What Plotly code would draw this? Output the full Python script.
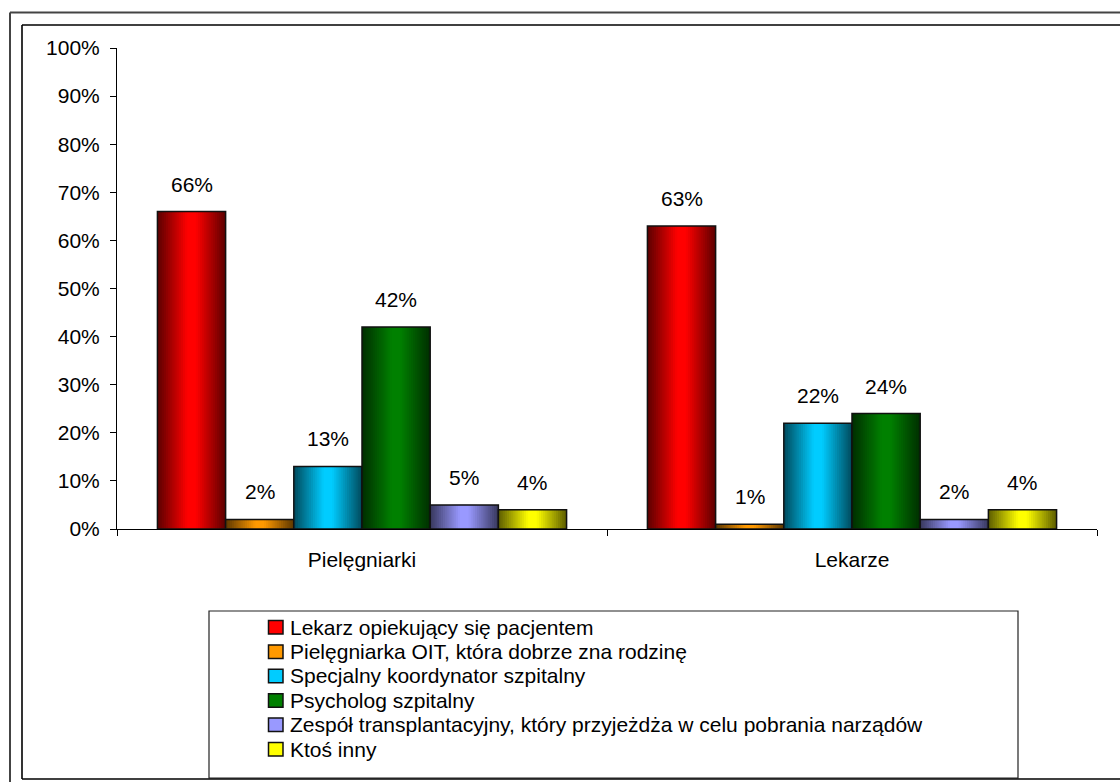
import plotly.graph_objects as go

# ---- data ----
categories = ["Pielęgniarki", "Lekarze"]
series_names = [
    "Lekarz opiekujący się pacjentem",
    "Pielęgniarka OIT, która dobrze zna rodzinę",
    "Specjalny koordynator szpitalny",
    "Psycholog szpitalny",
    "Zespół transplantacyjny, który przyjeżdża w celu pobrania narządów",
    "Ktoś inny",
]
values_lekarz = [66, 63]
values_pielegniarka = [2, 1]
values_koordynator = [13, 22]
values_psycholog = [42, 24]
values_zespol = [5, 2]
values_inny = [4, 4]
series_values = [values_lekarz, values_pielegniarka, values_koordynator,
                 values_psycholog, values_zespol, values_inny]
y_ticks = [0, 10, 20, 30, 40, 50, 60, 70, 80, 90, 100]
y_tick_labels = ["%d%%" % v for v in y_ticks]

# ---- styles ----
colors = ["#FF0000", "#FF9900", "#00CCFF", "#008000", "#9999FF", "#FFFF00"]
FONT = "Liberation Sans, Arial, sans-serif"
FS = 21

W, H = 1120, 782
L, T = 117, 48
PW, PH = 980, 481
R = W - L - PW
B = H - T - PH

def px_x(px):
    return (px - L) / PW

def px_y(py):
    return (T + PH - py) / PH

def shade(hexcol, f):
    r, g, b = int(hexcol[1:3], 16), int(hexcol[3:5], 16), int(hexcol[5:7], 16)
    return "rgb(%d,%d,%d)" % (round(r * f), round(g * f), round(b * f))

group_w = 0.835
bar_w = group_w / len(series_names)
K = 16

fig = go.Figure()
for i, (name, vals, col) in enumerate(zip(series_names, series_values, colors)):
    left = -group_w / 2 + i * bar_w
    n = len(vals)
    # nested bars to imitate horizontal shading (dark edges, bright centre)
    for k in range(K):
        s = (k + 0.5) / K
        t = min(1.0, s / 0.88)
        f = 0.36 + 0.64 * t
        wk = bar_w * (1 - k / K)
        fig.add_trace(go.Bar(
            x=categories, y=vals, name=name,
            offset=[left + (bar_w - wk) / 2] * n, width=[wk] * n,
            marker=dict(color=shade(col, f), line=dict(width=0)),
            showlegend=False, hoverinfo="none",
        ))
    fig.add_trace(go.Bar(
        x=categories, y=vals, name=name,
        offset=[left] * n, width=[bar_w] * n,
        marker=dict(color="rgba(0,0,0,0)", line=dict(color="#111111", width=1.5)),
        showlegend=False,
    ))
    for ci, v in enumerate(vals):
        fig.add_annotation(
            x=ci + left + bar_w / 2, y=v, xref="x", yref="y",
            text="%d%%" % round(v), showarrow=False,
            yanchor="bottom", yshift=14,
            font=dict(family=FONT, size=FS, color="black"),
        )

# ---- custom legend ----
shapes = []
leg_top = 627
leg_step = 24.4
for i, (name, col) in enumerate(zip(series_names, colors)):
    cy = leg_top + i * leg_step
    fig.add_annotation(
        x=px_x(288), y=px_y(cy), xref="paper", yref="paper",
        text=name, showarrow=False, xanchor="left", yanchor="middle",
        font=dict(family=FONT, size=FS, color="black"),
    )
    shapes.append(dict(type="rect", xref="paper", yref="paper",
                       x0=px_x(268.5), x1=px_x(283), y0=px_y(cy - 6.5), y1=px_y(cy + 7),
                       fillcolor=col, line=dict(color="#111111", width=1.5)))

# legend box
shapes.append(dict(type="rect", xref="paper", yref="paper",
                   x0=px_x(209), x1=px_x(1018), y0=px_y(611), y1=px_y(778),
                   fillcolor="rgba(0,0,0,0)", line=dict(color="#222222", width=1.2)))

# frames (only left / top / bottom sides are inside the picture)
def hline(x0, x1, y, color, width):
    return dict(type="line", xref="paper", yref="paper",
                x0=px_x(x0), x1=px_x(x1), y0=px_y(y), y1=px_y(y),
                line=dict(color=color, width=width))

def vline(x, y0, y1, color, width):
    return dict(type="line", xref="paper", yref="paper",
                x0=px_x(x), x1=px_x(x), y0=px_y(y0), y1=px_y(y1),
                line=dict(color=color, width=width))

shapes += [
    hline(10, 1300, 12.5, "#444444", 2),
    vline(10, 12.5, 900, "#444444", 2),
    hline(22, 1300, 25, "black", 1.6),
    vline(22, 25, 779, "black", 1.6),
    hline(22, 1300, 779, "black", 1.6),
]

fig.update_layout(
    width=W, height=H,
    margin=dict(l=L, r=R, t=T, b=B),
    paper_bgcolor="white", plot_bgcolor="white",
    barmode="overlay",
    showlegend=False,
    shapes=shapes,
    font=dict(family=FONT, size=FS, color="black"),
    xaxis=dict(
        type="category", range=[-0.5, 1.5],
        showline=True, linecolor="black", linewidth=1,
        ticks="outside", tickson="boundaries", ticklen=6, tickcolor="black",
        showgrid=False, zeroline=False,
        tickfont=dict(family=FONT, size=FS, color="black"),
        ticklabelstandoff=12,
    ),
    yaxis=dict(
        range=[0, 100], tickmode="array", tickvals=y_ticks, ticktext=y_tick_labels,
        showline=True, linecolor="black", linewidth=1,
        ticks="outside", ticklen=6, tickcolor="black",
        showgrid=False, zeroline=False,
        tickfont=dict(family=FONT, size=FS, color="black"),
        ticklabelstandoff=6,
    ),
)

fig.write_html(
    "out.html",
    config={"displayModeBar": False},
    post_script=("document.documentElement.style.overflow='hidden';"
                 "document.body.style.margin='0';"
                 "document.body.style.overflow='hidden';"),
)
